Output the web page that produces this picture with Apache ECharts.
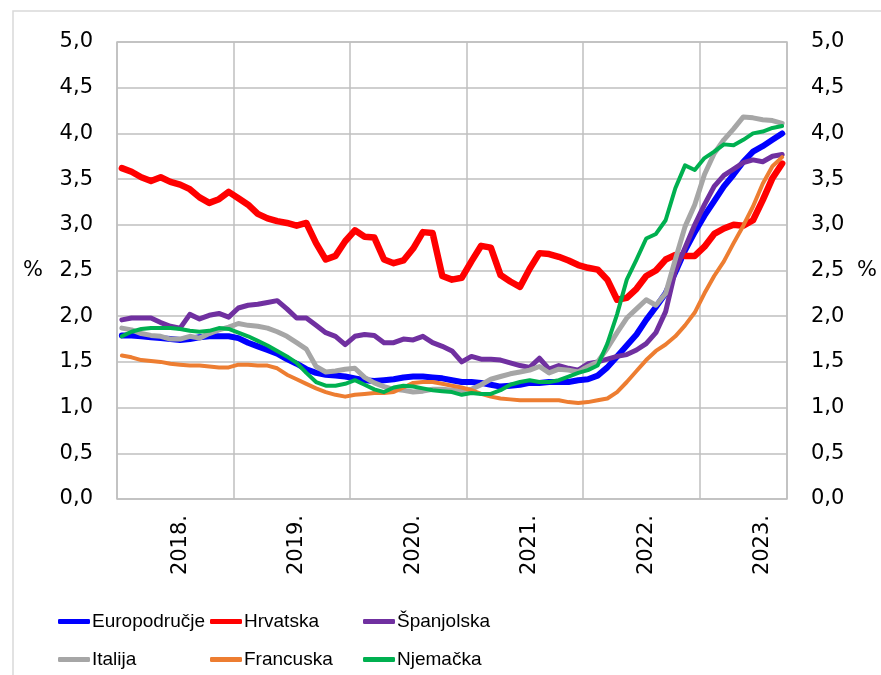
<!DOCTYPE html>
<html>
<head>
<meta charset="utf-8">
<script src="https://cdn.jsdelivr.net/npm/echarts@6/dist/echarts.min.js"></script>
<style>
  html, body { margin: 0; padding: 0; background: #fff; }
  #chart { width: 881px; height: 675px; }
</style>
</head>
<body>
<div id="chart"></div>
<script>
// monthly data, 2018-01 .. 2023-09
const years = [2018, 2019, 2020, 2021, 2022, 2023];
const monthsInLastYear = 9;

const europodrucje = [
    1.79, 1.79, 1.78, 1.77, 1.76, 1.75, 1.74, 1.75, 1.77, 1.78, 1.78, 1.78,
    1.76, 1.71, 1.67, 1.63, 1.59, 1.53, 1.48, 1.42, 1.38, 1.36, 1.35, 1.34,
    1.32, 1.30, 1.29, 1.30, 1.31, 1.33, 1.34, 1.34, 1.33, 1.32, 1.30, 1.28,
    1.28, 1.27, 1.25, 1.23, 1.24, 1.25, 1.27, 1.27, 1.28, 1.28, 1.28, 1.30,
    1.31, 1.35, 1.44, 1.56, 1.68, 1.80, 1.96, 2.10, 2.25, 2.48, 2.72, 2.92,
    3.10, 3.26, 3.42, 3.55, 3.69, 3.80, 3.86, 3.93, 4.00
];
const hrvatska = [
    3.62, 3.58, 3.52, 3.48, 3.52, 3.47, 3.44, 3.39, 3.30, 3.24, 3.28, 3.36,
    3.29, 3.22, 3.12, 3.07, 3.04, 3.02, 2.99, 3.02, 2.80, 2.62, 2.66, 2.82,
    2.94, 2.87, 2.86, 2.62, 2.58, 2.61, 2.74, 2.92, 2.91, 2.44, 2.40, 2.42,
    2.60, 2.77, 2.75, 2.45, 2.38, 2.32, 2.52, 2.69, 2.68, 2.65, 2.61, 2.56,
    2.53, 2.51, 2.40, 2.18, 2.20, 2.30, 2.44, 2.50, 2.62, 2.67, 2.66, 2.66,
    2.76, 2.90, 2.96, 3.00, 2.99, 3.05, 3.27, 3.51, 3.67
];
const spanjolska = [
    1.96, 1.98, 1.98, 1.98, 1.93, 1.89, 1.87, 2.02, 1.97, 2.01, 2.03, 1.99,
    2.09, 2.12, 2.13, 2.15, 2.17, 2.08, 1.98, 1.98, 1.90, 1.82, 1.78, 1.69,
    1.78, 1.80, 1.79, 1.71, 1.71, 1.75, 1.74, 1.78, 1.71, 1.67, 1.62, 1.50,
    1.56, 1.53, 1.53, 1.52, 1.49, 1.46, 1.44, 1.54, 1.42, 1.46, 1.43, 1.41,
    1.48, 1.50, 1.53, 1.56, 1.58, 1.63, 1.70, 1.82, 2.05, 2.50, 2.75, 3.00,
    3.22, 3.42, 3.54, 3.61, 3.68, 3.71, 3.69, 3.75, 3.77
];
const italija = [
    1.87, 1.85, 1.81, 1.79, 1.78, 1.75, 1.75, 1.78, 1.76, 1.81, 1.85, 1.88,
    1.92, 1.90, 1.89, 1.87, 1.83, 1.78, 1.71, 1.64, 1.45, 1.39, 1.40, 1.42,
    1.43, 1.33, 1.27, 1.23, 1.20, 1.19, 1.17, 1.18, 1.20, 1.20, 1.19, 1.18,
    1.20, 1.25, 1.31, 1.34, 1.37, 1.39, 1.41, 1.45, 1.38, 1.42, 1.41, 1.39,
    1.45, 1.50, 1.65, 1.82, 1.98, 2.08, 2.18, 2.12, 2.25, 2.62, 2.98, 3.22,
    3.55, 3.78, 3.93, 4.05, 4.18, 4.17, 4.15, 4.14, 4.11
];
const francuska = [
    1.57, 1.55, 1.52, 1.51, 1.50, 1.48, 1.47, 1.46, 1.46, 1.45, 1.44, 1.44,
    1.47, 1.47, 1.46, 1.46, 1.43, 1.36, 1.31, 1.26, 1.21, 1.17, 1.14, 1.12,
    1.14, 1.15, 1.16, 1.16, 1.17, 1.22, 1.27, 1.28, 1.28, 1.26, 1.24, 1.22,
    1.19, 1.15, 1.12, 1.10, 1.09, 1.08, 1.08, 1.08, 1.08, 1.08, 1.06, 1.05,
    1.06, 1.08, 1.10, 1.17, 1.28, 1.40, 1.52, 1.62, 1.69, 1.78, 1.90, 2.04,
    2.25, 2.44, 2.60, 2.80, 2.99, 3.20, 3.45, 3.64, 3.74
];
const njemacka = [
    1.78, 1.83, 1.86, 1.87, 1.87, 1.87, 1.86, 1.84, 1.83, 1.84, 1.87, 1.86,
    1.82, 1.78, 1.73, 1.68, 1.62, 1.56, 1.49, 1.38, 1.28, 1.24, 1.24, 1.26,
    1.30, 1.25, 1.20, 1.17, 1.22, 1.24, 1.23, 1.21, 1.19, 1.18, 1.17, 1.14,
    1.16, 1.15, 1.15, 1.19, 1.25, 1.28, 1.30, 1.28, 1.28, 1.30, 1.34, 1.38,
    1.41, 1.46, 1.70, 2.02, 2.40, 2.62, 2.85, 2.90, 3.05, 3.40, 3.65, 3.60,
    3.73, 3.80, 3.88, 3.87, 3.93, 4.00, 4.02, 4.06, 4.08
];

const yTicks = [0, 0.5, 1, 1.5, 2, 2.5, 3, 3.5, 4, 4.5, 5];

// category names 'YYYY-MM'
const months = [];
years.forEach(function (y, k) {
    const n = (k === years.length - 1) ? monthsInLastYear : 12;
    for (let m = 1; m <= n; m++) {
        months.push(y + '-' + (m < 10 ? '0' + m : m));
    }
});

const seriesDefs = [
    { name: 'Europodručje', data: europodrucje, color: '#0000ff', width: 6 },
    { name: 'Hrvatska',     data: hrvatska,     color: '#ff0000', width: 6.5 },
    { name: 'Španjolska',   data: spanjolska,   color: '#7030a0', width: 5 },
    { name: 'Italija',      data: italija,      color: '#a6a6a6', width: 5 },
    { name: 'Francuska',    data: francuska,    color: '#ed7d31', width: 4 },
    { name: 'Njemačka',     data: njemacka,     color: '#00b050', width: 4 }
];

const legendPos = [
    [58, 612], [210, 612], [363, 612],
    [58, 650], [210, 650], [363, 650]
];

const labelFont = 'DejaVu Sans';
const fmt = function (v) { return v.toFixed(1).replace('.', ','); };

const chart = echarts.init(document.getElementById('chart'));

const yAxisBase = function (pos, gap) {
    return {
        type: 'value',
        position: pos,
        min: 0,
        max: 5,
        interval: 0.5,
        name: '%',
        nameLocation: 'middle',
        nameRotate: 0,
        nameGap: gap,
        nameTextStyle: { fontFamily: labelFont, fontSize: 21, color: '#000' },
        axisLine: { show: false },
        axisTick: { show: false },
        axisLabel: {
            fontFamily: labelFont, fontSize: 21, color: '#000', margin: 24,
            formatter: function (v) { return yTicks.indexOf(v) >= 0 ? fmt(v) : ''; }
        },
        splitLine: { show: pos === 'left', lineStyle: { color: '#bfbfbf', width: 1.5 } }
    };
};

const option = {
    animation: false,
    backgroundColor: '#fff',
    grid: {
        left: 117, right: 94, top: 42, bottom: 176,
        outerBoundsMode: 'none',
        show: true, borderColor: '#bfbfbf', borderWidth: 1.5
    },
    graphic: [{
        type: 'rect',
        shape: { x: 13, y: 11, width: 900, height: 700 },
        style: { fill: 'none', stroke: '#d9d9d9', lineWidth: 1.5 },
        silent: true
    }],
    legend: seriesDefs.map(function (s, i) {
        return {
            data: [s.name],
            left: legendPos[i][0],
            top: legendPos[i][1],
            icon: 'roundRect',
            itemWidth: 32,
            itemHeight: 5,
            itemGap: 0,
            padding: 0,
            selectedMode: false,
            textStyle: {
                fontFamily: "'Liberation Sans Narrow', 'Arial Narrow', 'Liberation Sans', sans-serif",
                fontSize: 19, color: '#000', padding: [0, 0, 0, -3]
            }
        };
    }),
    xAxis: {
        type: 'category',
        data: months,
        boundaryGap: true,
        axisLine: { show: false },
        axisTick: { show: false },
        axisLabel: {
            interval: function (index) { return index % 12 === 6; },
            rotate: 90,
            margin: 16,
            fontFamily: labelFont, fontSize: 21, color: '#000',
            formatter: function (v) { return v.slice(0, 4) + '.'; }
        },
        splitLine: {
            show: true,
            interval: function (index) { return index % 12 === 0; },
            lineStyle: { color: '#bfbfbf', width: 1.5 }
        }
    },
    yAxis: [yAxisBase('left', 74), yAxisBase('right', 70)],
    series: seriesDefs.map(function (s) {
        return {
            name: s.name,
            type: 'line',
            data: s.data,
            symbol: 'none',
            color: s.color,
            lineStyle: { color: s.color, width: s.width, join: 'round', cap: 'round' }
        };
    })
};

chart.setOption(option);
</script>
</body>
</html>
